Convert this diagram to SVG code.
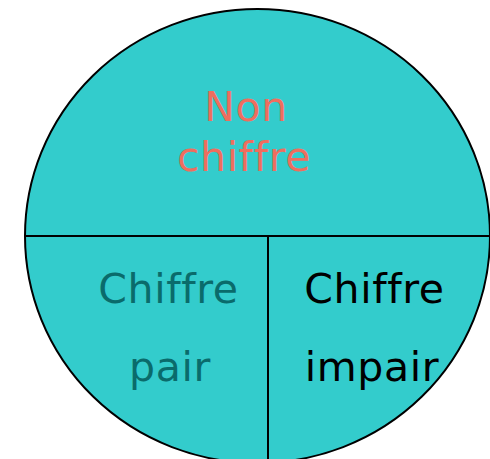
<svg xmlns="http://www.w3.org/2000/svg" width="490" height="459" viewBox="0 0 490 459">
<style>
text{font-family:"DejaVu Sans","Liberation Sans",sans-serif;font-size:41px;letter-spacing:0.6px;font-variant-ligatures:none;font-feature-settings:"liga" 0,"clig" 0}
.ln{stroke:#000;stroke-width:2;fill:none}
</style>
<rect width="490" height="459" fill="#fff"/>
<g id="circle">
<ellipse cx="257.5" cy="236" rx="232.5" ry="227" fill="#33CCCC" stroke="#000" stroke-width="2"/>
</g>
<g id="connectors">
<line class="ln" x1="25" y1="236" x2="490" y2="236"/>
<line class="ln" x1="268" y1="236" x2="268" y2="459"/>
</g>
<g id="non-chiffre" fill="#EE6E5E" text-anchor="middle">
<text x="246" y="121">Non</text>
<text x="244" y="171">chiffre</text>
</g>
<g id="chiffre-pair" fill="#0A6B6B" text-anchor="middle">
<text x="168.5" y="303">Chiffre</text>
<text x="170" y="381">pair</text>
</g>
<g id="chiffre-impair" fill="#000" text-anchor="middle">
<text x="374.5" y="303">Chiffre</text>
<text x="372" y="381">impair</text>
</g>
</svg>
